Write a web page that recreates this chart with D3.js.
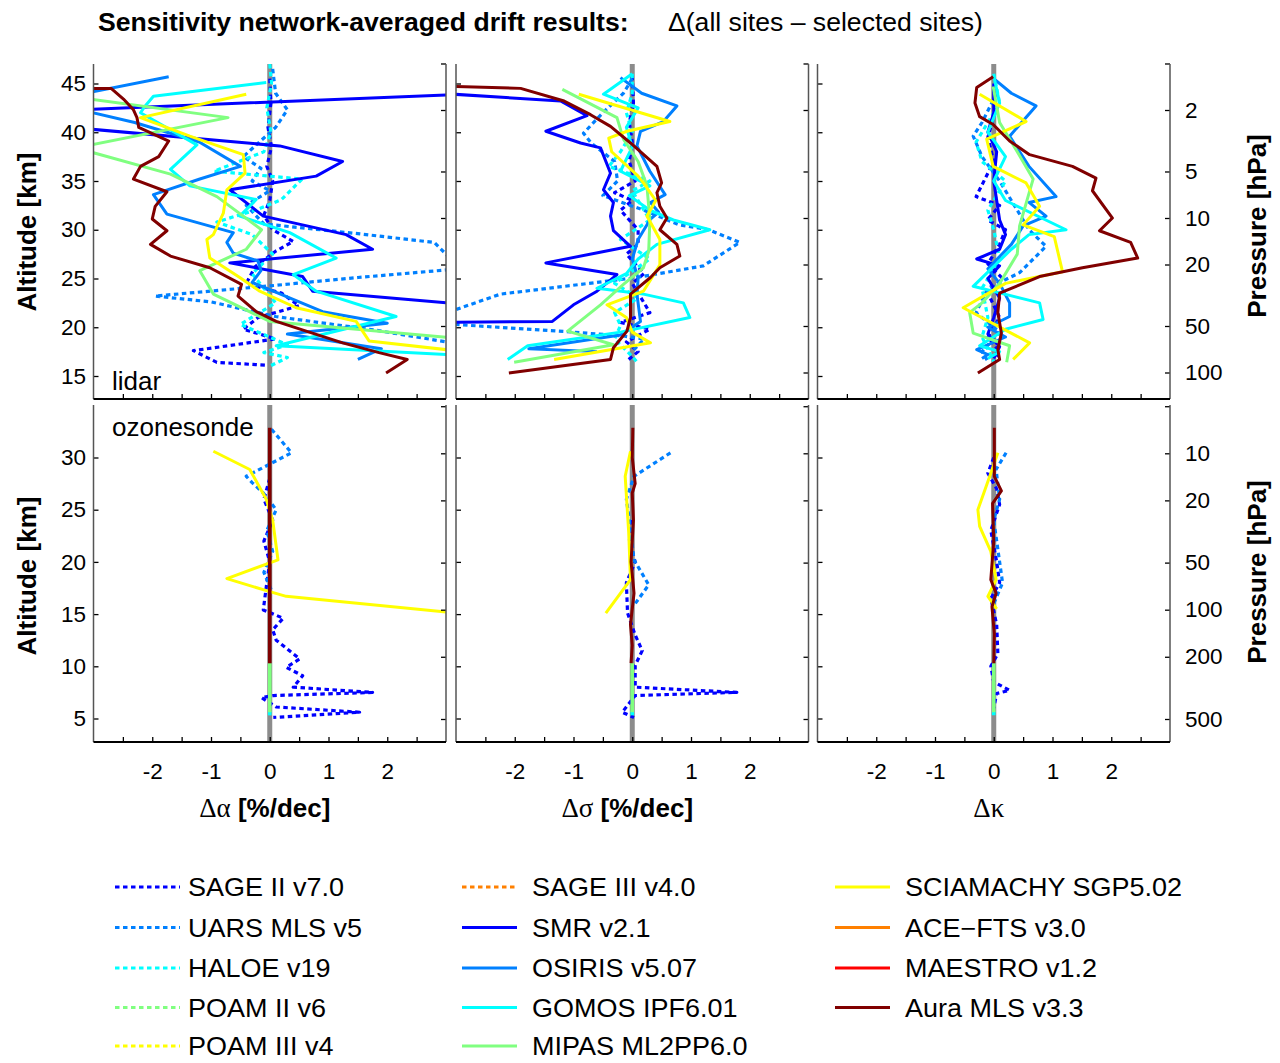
<!DOCTYPE html>
<html><head><meta charset="utf-8">
<script src="https://cdn.jsdelivr.net/npm/d3@7"></script>
<style>
body{margin:0;background:#fff}
svg{display:block}
text{font-family:"Liberation Sans",Arial,sans-serif;fill:#000}
</style>
</head><body>
<svg id="chart" width="1280" height="1063"></svg>
<script>
// ---------------- instruments ----------------
const instrumentNames = ["SAGE II v7.0","UARS MLS v5","HALOE v19","POAM II v6","POAM III v4","SAGE III v4.0",
  "SMR v2.1","OSIRIS v5.07","GOMOS IPF6.01","MIPAS ML2PP6.0","SCIAMACHY SGP5.02","ACE\u2212FTS v3.0","MAESTRO v1.2","Aura MLS v3.3"];
const instrumentColors = ["#0000ff","#0080ff","#00ffff","#80ff80","#ffff00","#ff8000",
  "#0000ff","#0080ff","#00ffff","#80ff80","#ffff00","#ff8000","#ff0000","#800000"];
const instrumentDotted = [true,true,true,true,true,true,false,false,false,false,false,false,false,false];

// ---------------- axes ----------------
const xTickValues = [-2.5,-2,-1.5,-1,-0.5,0,0.5,1,1.5,2,2.5];
const xTickLabels = [-2,-1,0,1,2];
const altTicksLidar = [15,20,25,30,35,40,45];
const altTicksSonde = [5,10,15,20,25,30];
const pressTicksLidar = [1,2,5,10,20,50,100];
const pressLabelsLidar = [2,5,10,20,50,100];
const pressTicksSonde = [5,10,20,50,100,200,500];
const pressLabelsSonde = [10,20,50,100,200,500];

// ---------------- lidar, delta alpha [value, altitude km] ----------------
const lidarAlpha_SAGE2 = [[0,45.5],[0.02,43],[-0.03,40.5],[0.03,38.5],[-0.05,36.5],[0.05,35],[0,33],[-0.1,31.5],[0.05,30],[0.4,28.8],[0.1,27.8],[-0.25,26.2],[-0.4,24.5],[0.2,23.5],[0.5,22.2],[-0.2,21],[-0.45,19.8],[0.1,18.8],[-1.3,17.6],[-0.9,16.4],[-0.05,16.1]];
const lidarAlpha_UARS = [[0.05,46.5],[0.1,44],[0.3,42.3],[0.1,40.5],[-0.45,37.5],[-0.15,36.3],[-0.3,35],[0,34],[-0.4,32.5],[-0.1,30.6],[1.5,29.6],[2.8,28.7],[3.05,27.2],[3.05,25.9],[1.5,25.1],[0.1,24.3],[-1.95,23.2],[-1.0,22.6],[0.1,21.1],[1.8,19.7],[3.1,18.4]];
const lidarAlpha_HALOE = [[0,47],[0.03,45],[-0.05,42.5],[0.02,40],[-0.1,38],[-0.95,36],[0.55,35.2],[0.2,33.1],[-0.2,32.1],[-0.9,30.8],[-0.3,29.5],[0.05,27.5],[-0.3,25.5],[0.1,22.5],[-0.5,20.3],[0.3,18.2],[-0.1,17.4],[0.3,16.9],[0,16.0]];
const lidarAlpha_SMR = [[3.3,43.9],[-3.3,42.3],[-3.3,40.45],[0.17,38.6],[1.24,37.0],[0.79,35.5],[-0.68,34.1],[-0.11,31.4],[1.3,29.5],[1.75,28.0],[-0.68,26.6],[0.56,25.2],[0.73,23.7],[3.0,22.5],[3.3,22.4]];
const lidarAlpha_OSIRIS = [[-1.72,45.7],[-3.3,43.8],[-3.3,42.4],[-2.3,41.0],[-1.2,39.0],[-0.5,36.5],[-1.19,35.2],[-1.98,33.6],[-1.75,31.6],[-0.62,29.7],[-0.73,28.7],[-0.62,27.6],[-0.2,26.8],[-0.15,25.8],[-0.3,24.6],[0.9,21.6],[2.0,20.4],[0.3,19.3],[1.9,17.8],[1.5,16.7]];
const lidarAlpha_GOMOS = [[-0.06,45.1],[-1.98,43.7],[-2.12,42.7],[-2.2,42.0],[-1.24,38.7],[-1.69,36.2],[-1.36,34.5],[-0.23,33.1],[-0.51,31.4],[0.34,29.7],[1.13,27.1],[0.4,25.4],[0.79,23.7],[2.15,21.1],[0.11,18.1],[3.3,17.1]];
const lidarAlpha_MIPAS = [[-3.3,43.6],[-0.71,41.5],[-3.3,38.4],[-1.69,35.7],[-0.9,33.4],[-0.14,30.0],[-0.4,28.0],[-1.19,25.8],[-0.96,23.4],[0.0,20.6],[3.3,18.8]];
const lidarAlpha_SCIA = [[-0.4,43.9],[-2.2,41.5],[-1.36,39.6],[-0.45,37.7],[-0.42,35.8],[-0.73,34.1],[-0.79,31.7],[-0.96,29.5],[-1.07,29.0],[-1.02,27.1],[-0.51,25.1],[-0.17,23.7],[0.45,22.0],[1.47,20.6],[1.69,18.6],[3.3,17.5]];
const lidarAlpha_AURA = [[-3.1,44.5],[-2.7,44.5],[-2.49,43.4],[-2.32,42.3],[-2.26,41.5],[-2.23,40.5],[-1.72,39.1],[-1.89,37.5],[-2.2,36.5],[-2.32,35.2],[-1.75,33.9],[-1.95,32.4],[-2.0,31.1],[-1.75,29.9],[-2.03,28.5],[-1.69,27.3],[-1.02,26.1],[-0.48,24.4],[-0.54,23.2],[-0.23,21.6],[0.11,20.6],[0.62,19.6],[1.24,18.4],[1.86,17.4],[2.34,16.7],[1.98,15.3]];

// ---------------- lidar, delta sigma ----------------
const lidarSigma_SAGE2 = [[0,45.8],[0.02,43],[-0.05,41],[0,39],[-0.05,37],[0.05,35],[-0.3,33.8],[0,33],[-0.2,32],[0.1,30],[0.1,28.5],[-0.1,27.5],[0.2,25.5],[0,24.5],[0.2,22.5],[0.3,21.5],[-0.2,20.5],[0.3,19.8],[-0.1,18.5],[0.1,17.5],[-0.1,16.5]];
const lidarSigma_UARS = [[0,45.5],[-0.15,44.0],[-0.5,42],[-0.83,39.9],[-0.7,38.9],[-0.3,37],[-0.25,35],[-0.5,33.5],[0.2,32],[0.8,30.5],[1.3,30],[1.83,28.7],[1.21,26.3],[0.08,25.1],[-2.24,23.4],[-3.3,21.2],[-3.3,20.4],[-1.0,19.5],[-0.15,19.1],[0.2,18.8],[0,17.5]];
const lidarSigma_HALOE = [[0,46],[0,44],[-0.1,42],[0,40],[-0.2,38],[-0.4,36.5],[0.3,35],[0,34],[0.3,31],[-0.2,29],[0.3,27],[-0.3,24.5],[0.1,23],[-0.3,21.5],[-0.2,20.2],[-0.3,18.8],[0,17],[0.1,16.3]];
const lidarSigma_SMR = [[-3.3,44.0],[-1.22,43.2],[-0.77,41.7],[-1.47,40.1],[-0.88,38.9],[-0.54,38.4],[-0.37,35.8],[-0.49,34.1],[-0.32,32.8],[-0.37,31.4],[-0.32,29.9],[-0.03,28.3],[-1.47,26.6],[-0.26,25.4],[-0.6,23.7],[-1.0,22.3],[-1.36,20.6],[-3.3,20.5]];
const lidarSigma_OSIRIS = [[-0.2,45.6],[0.16,44.0],[0.76,42.7],[0.53,41.1],[0.14,40.1],[0.08,38.6],[0.3,36],[0.56,33.6],[0.31,32.8],[0.45,31.8],[0.31,31.1],[0.1,29],[0.0,27],[0.1,25],[0.08,23.4],[0.14,20.6],[-0.2,19.2],[-1.76,17.8],[-0.6,17.5]];
const lidarSigma_GOMOS = [[0,46],[-0.49,43.9],[0.1,42.5],[-0.1,40.5],[0,38.5],[-0.2,36],[0.3,34.5],[-0.05,33.5],[0.3,32],[0.7,31],[1.32,30.0],[0.42,28.5],[0.1,27],[-0.1,25.5],[-0.6,24.0],[0.19,23.4],[0.87,22.5],[0.98,21.0],[-0.2,19.5],[-1.78,18.1],[-2.12,16.7]];
const lidarSigma_MIPAS = [[-1.19,44.4],[-0.26,41.5],[-0.15,39.3],[0.1,37],[0.25,34.5],[0.3,31],[0.28,27.8],[0.19,26.1],[-0.15,24.4],[-0.54,22.3],[-1.1,19.6],[-0.32,18.2],[-2.01,16.4]];
const lidarSigma_SCIA = [[-0.91,43.9],[0.64,41.1],[-0.09,40.1],[-0.4,39.4],[-0.35,38],[0.1,35.5],[0.19,34.8],[0.4,33],[0.25,31.4],[0.47,29.0],[0.47,26.4],[0.19,23.7],[-0.43,22.3],[-0.1,21],[0,19.5],[0.31,18.4],[-1.33,16.7]];
const lidarSigma_AURA = [[-3.1,44.7],[-1.9,44.5],[-1.16,43.2],[-0.71,41.8],[-0.37,40.6],[-0.03,38.9],[0.42,36.5],[0.5,34.8],[0.42,33.8],[0.47,32.4],[0.59,31.2],[0.47,30.0],[0.76,28.5],[0.81,27.3],[0.47,26.1],[0.31,25.1],[-0.03,23.4],[-0.03,21.0],[-0.09,19.6],[-0.32,17.9],[-0.37,16.7],[-2.1,15.3]];

// ---------------- lidar, delta kappa ----------------
const lidarKappa_SAGE2 = [[0,44.5],[0.02,42],[-0.1,39.5],[0,37],[-0.3,33.4],[0.1,32.5],[-0.1,31],[0.2,30],[0.1,28.5],[-0.1,26.5],[0.15,25],[-0.1,23.5],[0.1,21],[-0.1,19],[0.1,17.5],[0,16.5]];
const lidarKappa_UARS = [[0.05,44],[-0.2,41],[-0.35,39.6],[-0.2,37.5],[0.1,35],[0.3,33],[0.6,30],[0.89,28.3],[0.44,25.6],[-0.1,24],[-0.3,21.5],[0.1,19.5],[-0.2,17.5],[-0.1,16.5]];
const lidarKappa_HALOE = [[0,46],[0.1,43],[-0.3,39],[-0.2,37],[0.2,35],[-0.1,32],[0,30],[0.1,27],[-0.2,24],[-0.1,21],[-0.2,19],[0,16.5]];
const lidarKappa_SMR = [[0,45],[0,42],[-0.1,40],[0.05,38],[0,35],[0.1,31],[0.2,29.5],[0.1,28],[-0.29,27.0],[0.1,26.3],[-0.1,25],[0.1,23],[0,21],[-0.1,19.3],[0.1,18],[0,16.8]];
const lidarKappa_OSIRIS = [[0.02,45.4],[0.3,44],[0.72,42.7],[0.27,39.6],[0.6,36.5],[1.06,33.4],[0.6,32.8],[0.89,31.4],[0.5,30.4],[0.3,28.5],[-0.1,26],[0.1,24.5],[0.27,22.5],[0.27,21.1],[-0.1,20],[0.2,19],[-0.29,17.7],[-0.1,17.2],[-0.2,16.8]];
const lidarKappa_GOMOS = [[0,45.8],[0.1,43],[-0.1,40],[0.2,37.5],[0,35],[0.2,33],[1.23,30.0],[0.6,29.5],[0.3,28],[-0.35,24.2],[0.78,22.5],[0.84,20.8],[0.2,19.8],[-0.24,18.1],[0.1,17.5],[-0.1,16.8]];
const lidarKappa_MIPAS = [[-0.01,44.7],[0.1,41],[0.4,38],[0.67,35.2],[0.44,30.4],[0.4,27.5],[0.1,24.5],[-0.2,22.5],[-0.41,21.5],[-0.35,19.4],[0.27,18.1],[0.22,16.4]];
const lidarKappa_SCIA = [[-0.24,43.9],[0.55,41.1],[-0.12,39.3],[-0.01,36.5],[0.55,34.8],[0.78,32.4],[0.5,30.5],[1.03,29.3],[1.17,25.7],[0.2,24.5],[-0.52,22.0],[0.61,18.4],[0.33,16.7]];
const lidarKappa_AURA = [[-0.01,45.7],[-0.29,44.6],[-0.32,43.0],[-0.24,41.6],[-0.01,40.8],[0.27,39.1],[0.61,37.7],[1.34,36.5],[1.74,35.3],[1.68,34.0],[2.02,31.2],[1.8,29.9],[2.33,28.7],[2.45,27.1],[1.51,26.1],[0.78,25.2],[0.1,23.5],[0.07,21.5],[0.13,19.4],[0.07,17.7],[0.1,16.7],[-0.27,15.3]];

// ---------------- ozonesonde ----------------
const sondeAlpha_SAGE2 = [[0,28],[-0.1,26],[0.05,24],[-0.1,22],[0,20],[-0.05,18],[-0.11,15.4],[0.23,14.6],[0.05,13.5],[0.11,12.5],[0.51,10.7],[0.28,9.9],[0.56,9.1],[0.4,8.0],[1.75,7.5],[0.06,7.2],[-0.14,7.0],[0.11,6.1],[1.53,5.6],[0.06,5.1]];
const sondeAlpha_UARS = [[0.03,32.7],[0.37,30.45],[-0.4,28.2],[-0.3,27.6],[-0.11,26.6],[0.11,25.0],[-0.05,23],[0.05,21],[-0.1,19],[0.05,17]];
const sondeAlpha_GOMOS = [[0,5.7],[0,5.3]];
const sondeAlpha_MIPAS = [[0,10.3],[0,5.6]];
const sondeAlpha_SCIA = [[-0.96,30.6],[-0.34,28.85],[-0.06,26.0],[0.05,24],[0.14,20.2],[-0.73,18.4],[0.03,17.1],[0.28,16.7],[3.0,15.2]];
const sondeAlpha_AURA = [[0,32.85],[0,10.3]];

const sondeSigma_SAGE2 = [[0,24],[-0.05,22],[0.05,20],[-0.1,18],[-0.08,15.1],[0.05,13],[0.17,11.5],[0.05,10.1],[0.05,8.0],[1.78,7.5],[0.05,7.2],[-0.17,5.6],[0.03,5.1]];
const sondeSigma_UARS = [[0.65,30.45],[0.03,28.2],[-0.1,26],[-0.05,24],[0.03,20.2],[0.28,17.8],[0.05,16.0]];
const sondeSigma_GOMOS = [[0,5.7],[0,5.3]];
const sondeSigma_MIPAS = [[0,10.3],[0,5.6]];
const sondeSigma_SCIA = [[-0.03,30.6],[-0.12,28.2],[-0.06,22.8],[-0.03,18.3],[-0.45,15.1]];
const sondeSigma_AURA = [[0.01,32.85],[0,30],[0.05,27.5],[0.0,26.6],[0.02,24],[-0.02,20],[0.03,17],[-0.03,14],[0,12],[-0.02,10.3]];

const sondeKappa_SAGE2 = [[0,30],[-0.1,28.5],[0.05,27],[0.1,25.5],[-0.05,23],[0.05,20],[0.1,18],[-0.05,16.5],[0.05,14],[0.07,11.2],[-0.05,10],[0,8.5],[0.27,7.7],[0.05,7.4],[0,6]];
const sondeKappa_UARS = [[0.21,30.45],[0.04,28.85],[0.1,26],[0,24],[0.1,20],[0.15,18],[0,16]];
const sondeKappa_GOMOS = [[0,5.7],[0,5.3]];
const sondeKappa_MIPAS = [[0,10.3],[0,5.6]];
const sondeKappa_SCIA = [[0.07,30.45],[-0.05,28.5],[-0.27,25.0],[-0.24,23.4],[-0.05,21],[0.04,18.3],[-0.1,16.7],[0.05,15.5]];
const sondeKappa_AURA = [[0.01,32.85],[0.01,28.2],[0.13,26.8],[-0.02,25.6],[0,22],[-0.05,18.3],[0.04,17.0],[-0.03,15.7],[0.01,13.1],[0,10.3]];

// instrument index -> series per panel
const panelSeries = [
  [[0,lidarAlpha_SAGE2],[1,lidarAlpha_UARS],[2,lidarAlpha_HALOE],[6,lidarAlpha_SMR],[7,lidarAlpha_OSIRIS],[8,lidarAlpha_GOMOS],[9,lidarAlpha_MIPAS],[10,lidarAlpha_SCIA],[13,lidarAlpha_AURA]],
  [[0,lidarSigma_SAGE2],[1,lidarSigma_UARS],[2,lidarSigma_HALOE],[6,lidarSigma_SMR],[7,lidarSigma_OSIRIS],[8,lidarSigma_GOMOS],[9,lidarSigma_MIPAS],[10,lidarSigma_SCIA],[13,lidarSigma_AURA]],
  [[0,lidarKappa_SAGE2],[1,lidarKappa_UARS],[2,lidarKappa_HALOE],[6,lidarKappa_SMR],[7,lidarKappa_OSIRIS],[8,lidarKappa_GOMOS],[9,lidarKappa_MIPAS],[10,lidarKappa_SCIA],[13,lidarKappa_AURA]],
  [[0,sondeAlpha_SAGE2],[1,sondeAlpha_UARS],[8,sondeAlpha_GOMOS],[9,sondeAlpha_MIPAS],[10,sondeAlpha_SCIA],[13,sondeAlpha_AURA]],
  [[0,sondeSigma_SAGE2],[1,sondeSigma_UARS],[8,sondeSigma_GOMOS],[9,sondeSigma_MIPAS],[10,sondeSigma_SCIA],[13,sondeSigma_AURA]],
  [[0,sondeKappa_SAGE2],[1,sondeKappa_UARS],[8,sondeKappa_GOMOS],[9,sondeKappa_MIPAS],[10,sondeKappa_SCIA],[13,sondeKappa_AURA]]
];

// ---------------- layout ----------------
const svg = d3.select("#chart");
const colX = [[93.5,446],[456,808.5],[817.5,1170]];
const rowsCfg = [
  {top:64,bottom:399,altDomain:[15,45],altRange:[376,83.5],altTicks:altTicksLidar,pDomain:[2,100],pRange:[110,372.5],pTicks:pressTicksLidar,pLabels:pressLabelsLidar},
  {top:405,bottom:742,altDomain:[5,30],altRange:[718.5,457.5],altTicks:altTicksSonde,pDomain:[10,500],pRange:[453.3,719],pTicks:pressTicksSonde,pLabels:pressLabelsSonde}
];
const DASH = "4.5 3.5";

rowsCfg.forEach((rc, r) => {
  colX.forEach((cx, c) => {
    const idx = r*3 + c;
    const x = d3.scaleLinear().domain([-3,3]).range(cx);
    const y = d3.scaleLinear().domain(rc.altDomain).range(rc.altRange);
    const p = d3.scaleLog().domain(rc.pDomain).range(rc.pRange);
    const g = svg.append("g");
    const clipId = "clip"+idx;
    svg.append("clipPath").attr("id",clipId).append("rect")
      .attr("x",cx[0]).attr("y",rc.top).attr("width",cx[1]-cx[0]).attr("height",rc.bottom-rc.top);
    const plot = g.append("g").attr("clip-path","url(#"+clipId+")");
    plot.append("line").attr("x1",x(0)).attr("x2",x(0)).attr("y1",rc.top).attr("y2",rc.bottom)
      .attr("stroke","#8c8c8c").attr("stroke-width",5);
    const line = d3.line().x(d=>x(d[0])).y(d=>y(d[1]));
    panelSeries[idx].forEach(([k, data]) => {
      const solidOnZero = !instrumentDotted[k] && data.every(d=>d[0]===0);
      plot.append("path").attr("d",line(data)).attr("fill","none")
        .attr("stroke",instrumentColors[k]).attr("stroke-width",instrumentDotted[k]?3.2:(solidOnZero?3.6:3))
        .attr("stroke-linejoin","round")
        .attr("stroke-dasharray",instrumentDotted[k]?DASH:null);
    });
    // axes
    const ax = g.append("g");
    const left = ax.append("g").attr("transform",`translate(${cx[0]},0)`)
      .call(d3.axisLeft(y).tickValues(rc.altTicks).tickSize(-5).tickPadding(7.5).tickFormat(c===0?(d=>String(d)):(()=>"")));
    const right = ax.append("g").attr("transform",`translate(${cx[1]},0)`)
      .call(d3.axisRight(p).tickValues(rc.pTicks).tickSize(-5).tickPadding(15).tickFormat(c===2?(d=>rc.pLabels.includes(d)?String(d):""):(()=>"")));
    const bottom = ax.append("g").attr("transform",`translate(0,${rc.bottom})`)
      .call(d3.axisBottom(x).tickValues(xTickValues).tickSize(-5).tickPadding(21).tickFormat(r===1?(d=>xTickLabels.includes(d)?String(d):""):(()=>"")));
    [left,right,bottom].forEach(a=>{
      a.select(".domain").remove();
      a.selectAll(".tick line").attr("stroke","#000").attr("stroke-width",1.3);
      a.selectAll(".tick text").attr("font-family","'Liberation Sans',Arial,sans-serif").attr("font-size",22.5).attr("fill","#000");
    });
    // borders
    ax.append("line").attr("x1",cx[0]).attr("x2",cx[0]).attr("y1",rc.top).attr("y2",rc.bottom).attr("stroke","#555").attr("stroke-width",1.5);
    ax.append("line").attr("x1",cx[1]).attr("x2",cx[1]).attr("y1",rc.top).attr("y2",rc.bottom).attr("stroke","#555").attr("stroke-width",1.5);
    ax.append("line").attr("x1",cx[0]).attr("x2",cx[1]).attr("y1",rc.bottom).attr("y2",rc.bottom).attr("stroke","#000").attr("stroke-width",2);
  });
});

// panel labels
svg.append("text").attr("x",112).attr("y",390).attr("font-size",26).text("lidar");
svg.append("text").attr("x",112).attr("y",436).attr("font-size",26).text("ozonesonde");

// title
svg.append("text").attr("x",98).attr("y",31).attr("font-size",26.6).attr("font-weight","bold").text("Sensitivity network-averaged drift results:");
svg.append("text").attr("x",668).attr("y",31).attr("font-size",26.6).text("\u0394(all sites \u2013 selected sites)");

// y titles
[232,576].forEach(cy=>{
  svg.append("text").attr("transform",`translate(36,${cy}) rotate(-90)`).attr("text-anchor","middle")
    .attr("font-size",26).attr("font-weight","bold").text("Altitude [km]");
});
[226,572].forEach(cy=>{
  svg.append("text").attr("transform",`translate(1266,${cy}) rotate(-90)`).attr("text-anchor","middle")
    .attr("font-size",26).attr("font-weight","bold").text("Pressure [hPa]");
});

// x titles
const xTitles = [["\u0394\u03b1"," [%/dec]"],["\u0394\u03c3"," [%/dec]"],["\u0394\u03ba",""]];
xTitles.forEach((t,c)=>{
  const cxm = (colX[c][0]+colX[c][1])/2 - 5;
  const tx = svg.append("text").attr("x",cxm).attr("y",817).attr("text-anchor","middle").attr("font-size",26);
  tx.append("tspan").attr("font-family","'Liberation Serif','Times New Roman',serif").attr("font-size",27).text(t[0]);
  if (t[1]) tx.append("tspan").attr("font-weight","bold").text(t[1]);
});

// legend
const legCols = [[115,180,188],[462,517,532],[835,890,905]];
const legRows = [887,927.5,968,1007.5,1046];
instrumentNames.forEach((name,i)=>{
  const c = Math.floor(i/5), rr = i%5;
  const [lx1,lx2,tx] = legCols[c];
  const yy = legRows[rr];
  svg.append("line").attr("x1",lx1).attr("x2",lx2).attr("y1",yy).attr("y2",yy)
    .attr("stroke",instrumentColors[i]).attr("stroke-width",3.2)
    .attr("stroke-dasharray",instrumentDotted[i]?DASH:null);
  svg.append("text").attr("transform",`translate(${tx},${yy+9}) scale(1.08,1)`)
    .attr("font-size",25).text(name);
});
</script>
</body></html>
